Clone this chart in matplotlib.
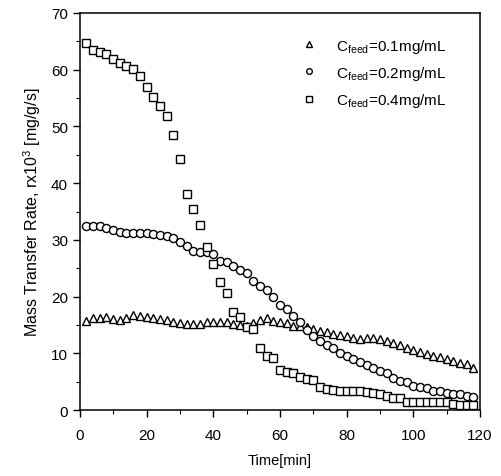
import matplotlib
matplotlib.use("Agg")
import matplotlib.pyplot as plt
from matplotlib.ticker import MultipleLocator

plt.rcParams['font.family'] = ['Liberation Sans', 'DejaVu Sans']
plt.rcParams['mathtext.fontset'] = 'custom'
plt.rcParams['mathtext.rm'] = 'Liberation Sans'
plt.rcParams['mathtext.it'] = 'Liberation Sans'

# time points [min]
t = list(range(2, 120, 2))

# C_feed = 0.1 mg/mL (triangles)
r_01 = [15.7, 16.2, 16.3, 16.5, 16.0, 15.9, 16.2, 16.8, 16.6, 16.5,
        16.3, 16.0, 15.9, 15.6, 15.4, 15.2, 15.2, 15.2, 15.6, 15.6,
        15.6, 15.6, 15.2, 15.0, 14.9, 15.3, 15.9, 16.2, 15.7, 15.5,
        15.4, 14.9, 14.8, 14.6, 14.3, 14.0, 13.8, 13.5, 13.2, 13.0,
        12.8, 12.6, 12.7, 12.8, 12.5, 12.2, 11.8, 11.5, 11.0, 10.6,
        10.3, 9.9, 9.6, 9.3, 9.0, 8.7, 8.3, 8.1, 7.5]

# C_feed = 0.2 mg/mL (circles)
r_02 = [32.5, 32.5, 32.4, 32.1, 31.7, 31.4, 31.3, 31.3, 31.3, 31.2,
        31.1, 30.9, 30.6, 30.4, 29.7, 29.0, 28.1, 27.8, 27.8, 27.6,
        26.3, 26.1, 25.4, 24.7, 24.2, 22.8, 21.8, 21.2, 19.9, 18.6,
        17.9, 16.6, 15.5, 14.2, 13.0, 12.2, 11.5, 10.9, 10.0, 9.6,
        9.0, 8.4, 8.0, 7.4, 6.9, 6.5, 5.6, 5.2, 4.9, 4.3,
        4.0, 3.9, 3.4, 3.3, 3.1, 2.9, 2.8, 2.5, 2.4]

# C_feed = 0.4 mg/mL (squares)
r_04 = [64.7, 63.5, 63.1, 62.8, 61.8, 61.2, 60.7, 60.1, 58.8, 57.0,
        55.1, 53.6, 51.8, 48.5, 44.2, 38.1, 35.4, 32.6, 28.8, 25.7,
        22.6, 20.6, 17.3, 16.4, 14.6, 14.3, 11.0, 9.6, 9.2, 7.0,
        6.8, 6.6, 5.9, 5.5, 5.3, 4.0, 3.8, 3.6, 3.4, 3.35,
        3.3, 3.3, 3.2, 3.1, 2.9, 2.5, 2.2, 2.2, 1.4, 1.4,
        1.4, 1.4, 1.4, 1.4, 1.5, 1.05, 0.95, 0.95, 0.95]

labels = [r'C$_{\mathregular{feed}}$=0.1mg/mL',
          r'C$_{\mathregular{feed}}$=0.2mg/mL',
          r'C$_{\mathregular{feed}}$=0.4mg/mL']

fig = plt.figure(figsize=(5.02, 4.77), dpi=100)
ax = fig.add_axes([0.159, 0.138, 0.797, 0.833])

ax.plot(t, r_01, linestyle='none', marker='^', markersize=5.2, mfc='white', mec='black', mew=1.0, label=labels[0])
ax.plot(t, r_02, linestyle='none', marker='o', markersize=5.8, mfc='white', mec='black', mew=1.0, label=labels[1])
ax.plot(t, r_04, linestyle='none', marker='s', markersize=5.3, mfc='white', mec='black', mew=1.0, label=labels[2])

ax.set_xlim(0, 120)
ax.set_ylim(0, 70)
ax.xaxis.set_major_locator(MultipleLocator(20))
ax.xaxis.set_minor_locator(MultipleLocator(10))
ax.yaxis.set_major_locator(MultipleLocator(10))
ax.yaxis.set_minor_locator(MultipleLocator(5))
ax.tick_params(which='major', direction='out', length=5, width=1, labelsize=11)
ax.tick_params(which='minor', direction='out', length=3, width=0.8)
ax.tick_params(axis='x', pad=8)
for s in ax.spines.values():
    s.set_linewidth(1.1)

ax.set_xlabel('Time[min]', fontsize=10.5, labelpad=8)
ax.set_ylabel(r'Mass Transfer Rate, rx10$^{\mathregular{3}}$ [mg/g/s]', fontsize=11.5, labelpad=6)

leg = ax.legend(loc='upper right', frameon=False, fontsize=11, markerscale=0.7,
                handlelength=1.0, handletextpad=1.3, labelspacing=0.6,
                bbox_to_anchor=(0.952, 0.975))

fig.savefig('out.png', dpi=100)
